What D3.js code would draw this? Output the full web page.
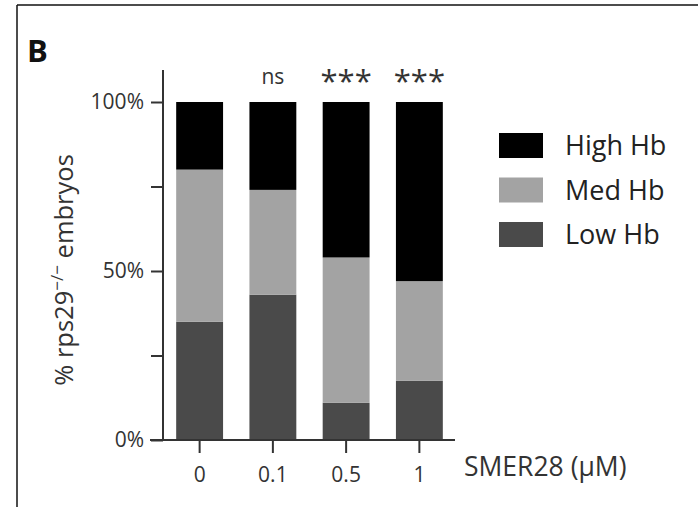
<!DOCTYPE html>
<html>
<head>
<meta charset="utf-8">
<script src="https://cdn.jsdelivr.net/npm/d3@7"></script>
<style>
  body { margin: 0; background: #fff; }
  svg text { font-family: "Open Sans", "Noto Sans", sans-serif; fill: #222; }
</style>
</head>
<body>
<div id="chart"></div>
<script>
// doses on the x axis and percent of embryos per Hb class
const doses = ['0', '0.1', '0.5', '1'];
const lowHb = [35, 43, 11, 17.5];
const medHb = [45, 31, 43, 29.5];
const highHb = [20, 26, 46, 53];
const signif = ['', 'ns', '***', '***'];
const yTicks = [0, 25, 50, 75, 100];
const seriesNames = ['Low Hb', 'Med Hb', 'High Hb'];
const seriesColors = ['#4a4a4a', '#a3a3a3', '#000000'];

const W = 698, H = 507;
const margin = { top: 102, left: 163, bottom: 67 };
const plotH = H - margin.top - margin.bottom; // 338

const svg = d3.select('#chart').append('svg')
  .attr('width', W).attr('height', H);

// frame lines (top and left only)
svg.append('line').attr('x1', 17).attr('x2', W).attr('y1', 5).attr('y2', 5)
  .attr('stroke', '#111').attr('stroke-width', 1.5);
svg.append('line').attr('x1', 17).attr('x2', 17).attr('y1', 5).attr('y2', H)
  .attr('stroke', '#111').attr('stroke-width', 1.5);

svg.append('text').attr('x', 27).attr('y', 62)
  .attr('font-size', 31).attr('font-weight', 'bold').style('fill', '#111')
  .text('B');

const table = doses.map((d, i) => ({ dose: d, 'Low Hb': lowHb[i], 'Med Hb': medHb[i], 'High Hb': highHb[i] }));
const stack = d3.stack().keys(seriesNames)(table);

const x = d3.scaleBand().domain(doses).range([176 - 13, 443 + 13]).paddingInner(0.36).paddingOuter(0.18);
const y = d3.scaleLinear().domain([0, 100]).range([margin.top + plotH, margin.top]);

const g = svg.append('g');

g.selectAll('.layer')
  .data(stack)
  .join('g')
  .attr('class', 'layer')
  .attr('fill', (d, i) => seriesColors[i])
  .selectAll('rect')
  .data(d => d)
  .join('rect')
  .attr('x', d => x(d.data.dose))
  .attr('width', x.bandwidth())
  .attr('y', d => y(d[1]))
  .attr('height', d => y(d[0]) - y(d[1]));

// y axis
const yAxisG = g.append('g').attr('transform', `translate(${margin.left},0)`)
  .call(d3.axisLeft(y).tickValues(yTicks).tickSize(12).tickSizeOuter(0)
    .tickFormat(d => d % 50 === 0 ? d + '%' : ''));
yAxisG.select('.domain').attr('d', `M0,70V${y(0)}`);
yAxisG.selectAll('line, path').attr('stroke', '#333').attr('stroke-width', 2);
yAxisG.selectAll('text').attr('font-size', 21).attr('dx', -4).style('fill', '#333');

// x axis
const xAxisG = g.append('g').attr('transform', `translate(0,${y(0)})`)
  .call(d3.axisBottom(x).tickSize(13).tickSizeOuter(0));
xAxisG.select('.domain').attr('d', `M150,0H455`);
xAxisG.selectAll('line, path').attr('stroke', '#333').attr('stroke-width', 2);
xAxisG.selectAll('text').attr('font-size', 21).attr('dy', '1.25em').style('fill', '#333');

svg.append('text').attr('x', 464).attr('y', 476)
  .attr('font-size', 26.5).style('fill', '#333')
  .text('SMER28 (µM)');

// significance labels
g.selectAll('.sig')
  .data(doses)
  .join('text')
  .attr('class', 'sig')
  .attr('x', d => x(d) + x.bandwidth() / 2)
  .attr('y', (d, i) => signif[i] === 'ns' ? 84 : 92)
  .attr('text-anchor', 'middle')
  .attr('font-size', (d, i) => signif[i] === 'ns' ? 21 : 31)
  .style('fill', '#333')
  .text((d, i) => signif[i]);

// y label
const yl = svg.append('text')
  .attr('transform', `translate(73,270) rotate(-90)`)
  .attr('text-anchor', 'middle')
  .attr('font-size', 25.5).style('fill', '#333');
yl.append('tspan').text('% rps29');
yl.append('tspan').attr('dy', -10).attr('font-size', 17).text('−/−');
yl.append('tspan').attr('dy', 10).text(' embryos');

// legend
const legendOrder = [2, 1, 0];
const lg = svg.append('g');
legendOrder.forEach((si, k) => {
  const row = lg.append('g').attr('transform', `translate(499,${133 + k * 44.5})`);
  row.append('rect').attr('width', 44).attr('height', 25).attr('fill', seriesColors[si]);
  row.append('text').attr('x', 66).attr('y', 22).attr('font-size', 27).style('fill', '#222')
    .text(seriesNames[si]);
});
</script>
</body>
</html>
